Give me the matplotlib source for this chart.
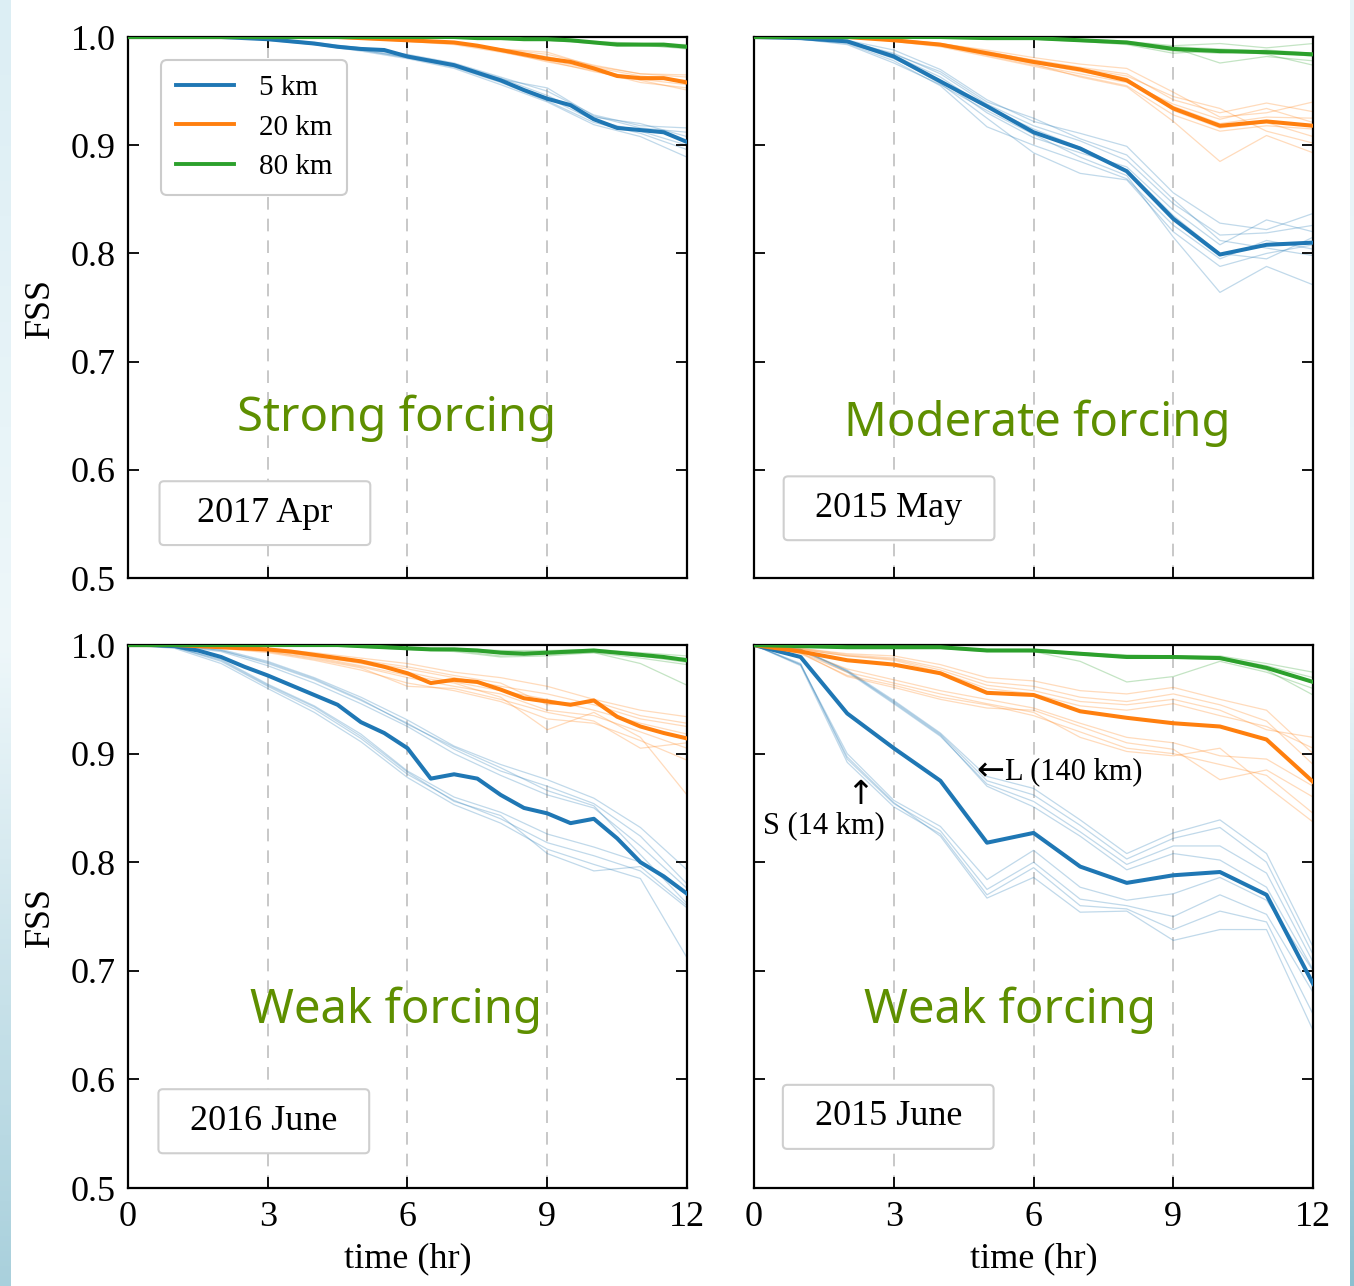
import numpy as np
import matplotlib
matplotlib.use('Agg')
import matplotlib.pyplot as plt
from matplotlib.patches import FancyBboxPatch

plt.rcParams['font.family'] = ['Liberation Serif', 'DejaVu Serif']
plt.rcParams['mathtext.fontset'] = 'stix'

# time axes
t_half = np.arange(0, 12.5, 0.5)
t_hour = np.arange(0, 13, 1)

scales = ['5 km', '20 km', '80 km']
colors = ['#1f77b4', '#ff7f0e', '#2ca02c']

# ---- 2017 Apr (strong forcing) ----
apr17_mean_5 = [1.0, 1.0, 1.0, 1.0, 1.0, .999, .998, .996, .994, .991, .989, .988, .982,
                .978, .974, .967, .960, .951, .943, .937, .924, .916, .914, .912, .903]
apr17_mean_20 = [1.0, 1.0, 1.0, 1.0, 1.0, 1.0, 1.0, 1.0, 1.0, 1.0, .999, .998, .997,
                 .996, .995, .992, .988, .984, .980, .977, .971, .964, .962, .962, .958]
apr17_mean_80 = [1.0, 1.0, 1.0, 1.0, 1.0, 1.0, 1.0, 1.0, 1.0, 1.0, 1.0, 1.0, 1.0,
                 1.0, 1.0, .999, .999, .998, .998, .997, .995, .993, .993, .993, .991]
apr17_mem_5 = [
    [1, 1, 1, .998, .994, .990, .984, .976, .963, .950, .928, .918, .916],
    [1, 1, 1, .998, .993, .988, .981, .972, .958, .941, .921, .911, .896],
    [1, 1, 1, .999, .995, .990, .983, .975, .962, .946, .926, .920, .908],
    [1, 1, 1, .997, .993, .987, .980, .971, .956, .940, .919, .908, .889],
    [1, 1, 1, .998, .994, .989, .982, .974, .961, .953, .927, .916, .912],
    [1, 1, 1, .998, .994, .988, .981, .973, .959, .944, .923, .913, .900],
]
apr17_mem_20 = [
    [1, 1, 1, 1, 1, .999, .997, .995, .989, .984, .974, .966, .963],
    [1, 1, 1, 1, 1, .999, .996, .994, .987, .977, .969, .958, .953],
    [1, 1, 1, 1, 1, .999, .997, .995, .988, .982, .972, .964, .960],
    [1, 1, 1, 1, 1, .998, .996, .993, .986, .978, .968, .960, .951],
    [1, 1, 1, 1, 1, .999, .997, .995, .989, .986, .973, .966, .965],
    [1, 1, 1, 1, 1, .999, .997, .994, .988, .979, .970, .961, .956],
]
apr17_mem_80 = [
    [1, 1, 1, 1, 1, 1, 1, 1, .999, .998, .996, .994, .992],
    [1, 1, 1, 1, 1, 1, 1, 1, .999, .997, .994, .992, .990],
    [1, 1, 1, 1, 1, 1, 1, 1, .999, .998, .995, .994, .993],
    [1, 1, 1, 1, 1, 1, 1, 1, .998, .997, .995, .993, .989],
]

# ---- 2015 May (moderate forcing) ----
may15_mean_5 = [1.0, .999, .996, .982, .959, .936, .912, .897, .876, .832, .799, .808, .810]
may15_mean_20 = [1.0, 1.0, 1.0, .997, .993, .985, .977, .970, .960, .934, .918, .922, .918]
may15_mean_80 = [1.0, 1.0, 1.0, 1.0, 1.0, .999, .999, .997, .995, .989, .987, .986, .984]
may15_mem_5 = [
    [1, .999, .997, .988, .970, .942, .922, .911, .899, .856, .828, .822, .837],
    [1, .999, .996, .985, .966, .938, .918, .904, .886, .846, .817, .819, .826],
    [1, .999, .995, .980, .960, .930, .907, .893, .880, .840, .808, .831, .820],
    [1, .998, .994, .978, .955, .917, .900, .885, .869, .826, .795, .812, .804],
    [1, .999, .995, .981, .957, .925, .893, .874, .868, .820, .788, .800, .808],
    [1, .998, .993, .976, .956, .932, .910, .889, .872, .815, .764, .788, .771],
    [1, .999, .996, .983, .963, .935, .915, .898, .877, .835, .800, .795, .815],
    [1, .999, .996, .984, .968, .940, .925, .906, .891, .850, .812, .805, .798],
]
may15_mem_20 = [
    [1, 1, 1, .998, .994, .988, .981, .975, .971, .949, .926, .930, .940],
    [1, 1, 1, .997, .993, .986, .979, .972, .966, .942, .930, .939, .931],
    [1, 1, 1, .997, .992, .984, .976, .968, .961, .936, .920, .926, .925],
    [1, 1, 1, .996, .991, .982, .973, .964, .955, .928, .913, .918, .915],
    [1, 1, 1, .997, .993, .985, .975, .963, .954, .922, .885, .909, .893],
    [1, 1, 1, .998, .994, .987, .978, .970, .962, .932, .916, .921, .908],
    [1, 1, 1, .997, .992, .983, .974, .966, .958, .938, .924, .934, .921],
    [1, 1, 1, .998, .993, .985, .977, .971, .964, .945, .934, .913, .902],
]
may15_mem_80 = [
    [1, 1, 1, 1, 1, .999, .999, .998, .996, .992, .994, .990, .994],
    [1, 1, 1, 1, 1, .999, .998, .997, .994, .987, .985, .988, .985],
    [1, 1, 1, 1, 1, .999, .999, .997, .995, .990, .976, .982, .978],
    [1, 1, 1, 1, 1, .999, .998, .996, .993, .985, .988, .984, .974],
    [1, 1, 1, 1, 1, .999, .999, .997, .995, .991, .989, .987, .982],
]

# ---- 2016 June (weak forcing) ----
jun16_mean_5 = [1.0, 1.0, .999, .995, .989, .980, .972, .963, .954, .945, .929, .919, .905,
                .877, .881, .877, .862, .850, .845, .836, .840, .822, .800, .787, .771]
jun16_mean_20 = [1.0, 1.0, 1.0, .999, .998, .997, .996, .994, .991, .988, .985, .980, .974,
                 .965, .968, .966, .959, .951, .948, .945, .949, .934, .925, .919, .914]
jun16_mean_80 = [1.0, 1.0, 1.0, 1.0, 1.0, 1.0, 1.0, 1.0, 1.0, 1.0, .999, .998, .997,
                 .996, .996, .995, .993, .992, .993, .994, .995, .993, .991, .989, .986]
jun16_mem_5 = [
    [1, 1.0, .996, .985, .970, .952, .931, .907, .890, .876, .859, .832, .793],
    [1, 1.0, .995, .983, .968, .949, .928, .904, .884, .870, .854, .824, .780],
    [1, .999, .994, .981, .965, .946, .925, .900, .880, .862, .850, .815, .776],
    [1, 1.0, .995, .984, .969, .950, .927, .906, .887, .866, .852, .807, .762],
    [1, .998, .987, .964, .944, .918, .884, .860, .846, .826, .814, .800, .770],
    [1, .998, .985, .962, .941, .914, .881, .857, .840, .818, .806, .792, .758],
    [1, .997, .983, .960, .938, .911, .878, .853, .836, .812, .798, .785, .712],
    [1, .998, .986, .963, .943, .916, .883, .856, .843, .808, .792, .796, .760],
]
jun16_mem_20 = [
    [1, 1, .999, .997, .993, .988, .983, .975, .970, .962, .950, .940, .934],
    [1, 1, .998, .996, .991, .985, .978, .970, .962, .955, .945, .932, .925],
    [1, 1, .998, .995, .990, .983, .975, .966, .958, .950, .940, .928, .918],
    [1, 1, .997, .994, .988, .980, .970, .962, .955, .940, .935, .920, .905],
    [1, 1, .997, .993, .986, .977, .965, .958, .948, .932, .928, .912, .894],
    [1, 1, .998, .995, .989, .981, .972, .965, .952, .922, .938, .915, .862],
    [1, 1, .999, .996, .992, .986, .980, .972, .965, .945, .948, .935, .928],
    [1, 1, .998, .994, .987, .979, .962, .960, .950, .938, .930, .905, .910],
]
jun16_mem_80 = [
    [1, 1, 1, 1, 1, .999, .997, .996, .992, .991, .994, .990, .984],
    [1, 1, 1, 1, 1, .999, .996, .995, .990, .992, .993, .988, .982],
    [1, 1, 1, 1, 1, .999, .997, .996, .994, .994, .995, .991, .988],
    [1, 1, 1, 1, 1, .998, .996, .994, .989, .990, .993, .983, .963],
    [1, 1, 1, 1, 1, 1.0, .998, .997, .995, .995, .996, .993, .990],
]

# ---- 2015 June (weak forcing) ----
jun15_mean_5 = [1.0, .989, .937, .905, .875, .818, .827, .796, .781, .788, .791, .770, .688]
jun15_mean_20 = [1.0, .994, .986, .982, .974, .956, .954, .939, .933, .928, .925, .913, .874]
jun15_mean_80 = [1.0, .999, .998, .998, .998, .995, .995, .992, .989, .989, .988, .979, .966]
jun15_mem_5 = [
    [1, .982, .900, .857, .833, .784, .811, .777, .765, .771, .786, .765, .700],
    [1, .983, .895, .854, .829, .775, .800, .766, .760, .750, .770, .752, .680],
    [1, .981, .892, .851, .826, .770, .795, .760, .757, .738, .755, .745, .660],
    [1, .982, .897, .855, .824, .767, .786, .754, .755, .728, .738, .738, .645],
    [1, .996, .977, .949, .919, .879, .868, .839, .808, .827, .839, .808, .722],
    [1, .996, .976, .948, .918, .875, .862, .834, .803, .822, .832, .800, .715],
    [1, .995, .975, .946, .916, .872, .856, .828, .798, .815, .815, .790, .708],
    [1, .996, .976, .947, .917, .870, .851, .824, .793, .808, .802, .777, .701],
]
jun15_mem_20 = [
    [1, .997, .992, .990, .982, .970, .967, .958, .955, .961, .950, .940, .900],
    [1, .997, .991, .988, .979, .966, .962, .952, .948, .955, .945, .930, .890],
    [1, .996, .990, .987, .977, .963, .958, .948, .945, .950, .940, .922, .915],
    [1, .996, .990, .986, .975, .960, .955, .944, .940, .946, .935, .925, .905],
    [1, .993, .971, .961, .950, .942, .940, .925, .910, .904, .876, .885, .860],
    [1, .992, .972, .963, .952, .945, .935, .920, .905, .900, .890, .880, .845],
    [1, .993, .975, .965, .955, .946, .938, .915, .902, .898, .905, .870, .837],
    [1, .994, .978, .968, .958, .950, .942, .928, .915, .910, .898, .895, .870],
]
jun15_mem_80 = [
    [1, .999, .998, .998, .997, .995, .994, .985, .966, .971, .985, .975, .960],
    [1, .999, .998, .998, .998, .996, .995, .993, .990, .990, .989, .981, .970],
    [1, .999, .998, .997, .997, .994, .994, .991, .988, .988, .987, .977, .954],
    [1, 1.0, .999, .998, .998, .996, .996, .993, .991, .990, .990, .983, .975],
    [1, .999, .998, .998, .997, .995, .995, .992, .989, .989, .988, .979, .965],
]

panels = [
    ('2017 Apr', 'Strong forcing', t_half,
     [apr17_mean_5, apr17_mean_20, apr17_mean_80],
     [apr17_mem_5, apr17_mem_20, apr17_mem_80]),
    ('2015 May', 'Moderate forcing', t_hour,
     [may15_mean_5, may15_mean_20, may15_mean_80],
     [may15_mem_5, may15_mem_20, may15_mem_80]),
    ('2016 June', 'Weak forcing', t_half,
     [jun16_mean_5, jun16_mean_20, jun16_mean_80],
     [jun16_mem_5, jun16_mem_20, jun16_mem_80]),
    ('2015 June', 'Weak forcing', t_hour,
     [jun15_mean_5, jun15_mean_20, jun15_mean_80],
     [jun15_mem_5, jun15_mem_20, jun15_mem_80]),
]

# axes positions [left, bottom, width, height] in figure fractions
positions = [
    [0.0945, 0.5505, 0.4129, 0.4207],
    [0.5569, 0.5505, 0.4129, 0.4207],
    [0.0945, 0.0762, 0.4129, 0.4222],
    [0.5569, 0.0762, 0.4129, 0.4222],
]
date_xy = [(0.245, 0.120), (0.2415, 0.129), (0.243, 0.123), (0.240, 0.131)]
label_xy = [(0.481, 0.296), (0.506, 0.2865), (0.479, 0.328), (0.458, 0.328)]

fig = plt.figure(figsize=(13.54, 12.86), dpi=100)

# light slide background strips at the edges
grad = np.linspace(0, 1, 256).reshape(-1, 1)
bg = fig.add_axes([0, 0, 0.008, 1])
bg.imshow(grad, aspect='auto', cmap=matplotlib.colors.LinearSegmentedColormap.from_list(
    'bg', ['#a9d0dc', '#eef7fa', '#dceef4']), origin='lower')
bg.axis('off')
bg2 = fig.add_axes([0.997, 0, 0.003, 1])
bg2.imshow(grad, aspect='auto', cmap=matplotlib.colors.LinearSegmentedColormap.from_list(
    'bg2', ['#8cc0d0', '#eef7fa', '#e8f4f8']), origin='lower')
bg2.axis('off')

green_txt = '#5e8f00'

for i, (date, label, tm, means, members) in enumerate(panels):
    ax = fig.add_axes(positions[i])
    for xv in [3, 6, 9]:
        ax.axvline(xv, color='#c4c4c4', ls=(0, (7, 5)), lw=1.3, zorder=0)
    for k in range(3):
        for m in members[k]:
            ax.plot(t_hour, m, color=colors[k], lw=0.9, alpha=0.28, zorder=1)
    for k in range(3):
        ax.plot(tm, means[k], color=colors[k], lw=2.9, zorder=3, label=scales[k])

    ax.set_xlim(0, 12)
    ax.set_ylim(0.5, 1.0)
    ax.set_xticks([0, 3, 6, 9, 12])
    ax.set_yticks([0.5, 0.6, 0.7, 0.8, 0.9, 1.0])
    ax.tick_params(direction='in', length=8, width=1.3, top=True, right=True,
                   labelsize=26, pad=9)
    for sp in ax.spines.values():
        sp.set_linewidth(1.6)
    if i % 2 == 1:
        ax.set_yticklabels([])
    else:
        ax.set_ylabel('FSS', fontsize=26, labelpad=10)
    if i < 2:
        ax.set_xticklabels([])
    else:
        ax.set_xlabel('time (hr)', fontsize=26, labelpad=6)

    # date box
    cx, cy = date_xy[i]
    bw, bh = 0.377, 0.118
    box = FancyBboxPatch((cx - bw / 2, cy - bh / 2), bw, bh, transform=ax.transAxes,
                         boxstyle='round,pad=0,rounding_size=0.008',
                         fc='white', ec='#cfcfcf', lw=1.5, zorder=4)
    ax.add_patch(box)
    ax.text(cx, cy, date, transform=ax.transAxes, ha='center', va='center',
            fontsize=26, zorder=5)

    ax.text(label_xy[i][0], label_xy[i][1], label, transform=ax.transAxes,
            ha='center', va='center', fontsize=34, color=green_txt,
            family=['Noto Sans', 'DejaVu Sans'], zorder=5)

    if i == 0:
        leg = ax.legend(loc='upper left', bbox_to_anchor=(0.059, 0.9575),
                        borderaxespad=0, fontsize=21, handlelength=2.0,
                        handletextpad=0.85, labelspacing=0.45, borderpad=0.5,
                        fancybox=True, framealpha=1, edgecolor='#cccccc')
        leg.get_frame().set_linewidth(1.5)
        for ln in leg.get_lines():
            ln.set_linewidth(2.8)

    if i == 3:
        ax.text(0.423, 0.768, '\u2190', transform=ax.transAxes,
                ha='center', va='center', fontsize=24, family='DejaVu Sans',
                zorder=5)
        ax.text(0.448, 0.766, 'L (140 km)', transform=ax.transAxes,
                ha='left', va='center', fontsize=22, zorder=5)
        ax.text(0.016, 0.668, 'S (14 km)', transform=ax.transAxes,
                ha='left', va='center', fontsize=22, zorder=5)
        ax.text(0.19, 0.724, '\u2191', transform=ax.transAxes,
                ha='center', va='center', fontsize=24, family='DejaVu Sans',
                zorder=5)

fig.savefig('out.png', dpi=100)
